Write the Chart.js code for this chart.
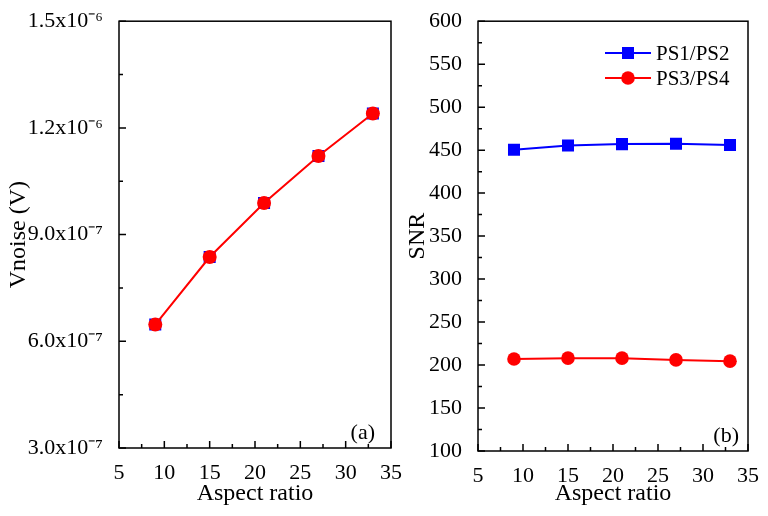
<!DOCTYPE html>
<html>
<head>
<meta charset="utf-8">
<script src="https://cdn.jsdelivr.net/npm/chart.js@4"></script>
<style>
body { margin: 0; background: #fff; width: 768px; height: 516px; overflow: hidden; }
canvas { position: absolute; top: 0; }
#chartA { left: 0; }
#chartB { left: 384px; }
</style>
</head>
<body>
<canvas id="chartA" width="420" height="516"></canvas>
<canvas id="chartB" width="384" height="516"></canvas>
<script>
// data
const aspectRatio = [9, 15, 21, 27, 33];
const vnoise = [6.47e-7, 8.37e-7, 9.89e-7, 1.121e-6, 1.2405e-6];
const snrPS12 = [450.5, 455.5, 457, 457.5, 456];
const snrPS34 = [207, 208, 208, 206, 204.5];
const vnoiseTickLabels = ['3.0x10\u207B\u2077', '6.0x10\u207B\u2077', '9.0x10\u207B\u2077', '1.2x10\u207B\u2076', '1.5x10\u207B\u2076'];

const FONT = "'Liberation Serif', 'Times New Roman', serif";
Chart.defaults.font.family = FONT;
Chart.defaults.color = '#000';

const pts = (ys) => aspectRatio.map((x, i) => ({ x: x, y: ys[i] }));

// box round the plot and inward major/minor ticks on left and bottom
const framePlugin = {
    id: 'frame',
    afterDatasetsDraw(chart) {
        const ctx = chart.ctx;
        const a = chart.chartArea;
        ctx.save();
        ctx.strokeStyle = '#000';
        ctx.lineWidth = 1.5;
        ctx.strokeRect(a.left, a.top, a.right - a.left, a.bottom - a.top);
        const xs = chart.scales.x;
        const ys = chart.scales.y;
        ctx.beginPath();
        const xv = xs.ticks.map(t => t.value);
        xv.forEach((v, i) => {
            const px = xs.getPixelForValue(v);
            ctx.moveTo(px, a.bottom);
            ctx.lineTo(px, a.bottom - 7);
            if (i < xv.length - 1) {
                const mx = xs.getPixelForValue((v + xv[i + 1]) / 2);
                ctx.moveTo(mx, a.bottom);
                ctx.lineTo(mx, a.bottom - 4);
            }
        });
        const yv = ys.ticks.map(t => t.value);
        yv.forEach((v, i) => {
            const py = ys.getPixelForValue(v);
            ctx.moveTo(a.left, py);
            ctx.lineTo(a.left + 7, py);
            if (i < yv.length - 1) {
                const my = ys.getPixelForValue((v + yv[i + 1]) / 2);
                ctx.moveTo(a.left, my);
                ctx.lineTo(a.left + 4, my);
            }
        });
        ctx.stroke();
        ctx.restore();
    }
};

function panelLabel(text, dx, dy) {
    return {
        id: 'panelLabel',
        afterDraw(chart) {
            const ctx = chart.ctx;
            const a = chart.chartArea;
            ctx.save();
            ctx.font = '22px ' + FONT;
            ctx.fillStyle = '#000';
            ctx.textAlign = 'right';
            ctx.textBaseline = 'middle';
            ctx.fillText(text, a.right - dx, a.bottom - dy);
            ctx.restore();
        }
    };
}

const legendPlugin = {
    id: 'lineLegend',
    afterDraw(chart) {
        const ctx = chart.ctx;
        ctx.save();
        ctx.font = '21px ' + FONT;
        ctx.textBaseline = 'middle';
        ctx.textAlign = 'left';
        chart.data.datasets.forEach((ds, i) => {
            const y = 53 + i * 25;
            const x0 = 221, x1 = 267;
            ctx.strokeStyle = ds.borderColor;
            ctx.fillStyle = ds.backgroundColor;
            ctx.lineWidth = 2;
            ctx.beginPath();
            ctx.moveTo(x0, y);
            ctx.lineTo(x1, y);
            ctx.stroke();
            Chart.helpers.drawPoint(ctx, {
                pointStyle: ds.pointStyle,
                radius: ds.pointRadius,
                borderWidth: 0
            }, (x0 + x1) / 2, y);
            ctx.fillStyle = '#000';
            ctx.fillText(ds.label, x1 + 5, y + 1);
        });
        ctx.restore();
    }
};

function xAxis(height) {
    return {
        type: 'linear',
        min: 5, max: 35,
        grid: { display: false },
        border: { display: false },
        ticks: { stepSize: 5, font: { size: 22 }, padding: 4 },
        title: { display: true, text: 'Aspect ratio', font: { size: 24 }, padding: { top: 0, bottom: 8 } },
        afterFit: (s) => { s.height = height; }
    };
}

new Chart(document.getElementById('chartA'), {
    type: 'line',
    data: {
        datasets: [{
            label: 'Vnoise',
            data: pts(vnoise),
            borderColor: '#ff0000',
            backgroundColor: '#ff0000',
            borderWidth: 2,
            pointStyle: 'circle',
            pointRadius: 7,
            pointBorderWidth: 0,
            order: 0
        }, {
            label: 'Vnoise (sq)',
            data: pts(vnoise),
            showLine: false,
            borderColor: '#0000ff',
            backgroundColor: '#0000ff',
            pointStyle: 'rect',
            pointRadius: 8.5,
            pointBorderWidth: 0,
            order: 1
        }]
    },
    options: {
        responsive: false,
        animation: false,
        layout: { padding: { top: 18, right: 29, left: 0, bottom: 0 } },
        plugins: { legend: { display: false }, tooltip: { enabled: false } },
        scales: {
            x: xAxis(68),
            y: {
                type: 'linear',
                min: 3e-7, max: 1.5e-6,
                grid: { display: false },
                border: { display: false },
                ticks: {
                    stepSize: 3e-7,
                    font: { size: 22 },
                    padding: 8,
                    callback: (v, i) => vnoiseTickLabels[i]
                },
                title: { display: true, text: 'Vnoise (V)', font: { size: 24 }, padding: { top: 4, bottom: 0 } },
                afterFit: (s) => { s.width = 119; }
            }
        }
    },
    plugins: [framePlugin, panelLabel('(a)', 16, 15)]
});

new Chart(document.getElementById('chartB'), {
    type: 'line',
    data: {
        datasets: [{
            label: 'PS1/PS2',
            data: pts(snrPS12),
            borderColor: '#0000ff',
            backgroundColor: '#0000ff',
            borderWidth: 2,
            pointStyle: 'rect',
            pointRadius: 8.5,
            pointBorderWidth: 0
        }, {
            label: 'PS3/PS4',
            data: pts(snrPS34),
            borderColor: '#ff0000',
            backgroundColor: '#ff0000',
            borderWidth: 2,
            pointStyle: 'circle',
            pointRadius: 6.8,
            pointBorderWidth: 0
        }]
    },
    options: {
        responsive: false,
        animation: false,
        layout: { padding: { top: 21, right: 20, left: 0, bottom: 0 } },
        plugins: { legend: { display: false }, tooltip: { enabled: false } },
        scales: {
            x: xAxis(65),
            y: {
                type: 'linear',
                min: 100, max: 600,
                grid: { display: false },
                border: { display: false },
                ticks: { stepSize: 50, font: { size: 22 }, padding: 8 },
                title: { display: true, text: 'SNR', font: { size: 24 }, padding: { top: 19, bottom: 0 } },
                afterFit: (s) => { s.width = 94; }
            }
        }
    },
    plugins: [framePlugin, legendPlugin, panelLabel('(b)', 9, 15)]
});
</script>
</body>
</html>
